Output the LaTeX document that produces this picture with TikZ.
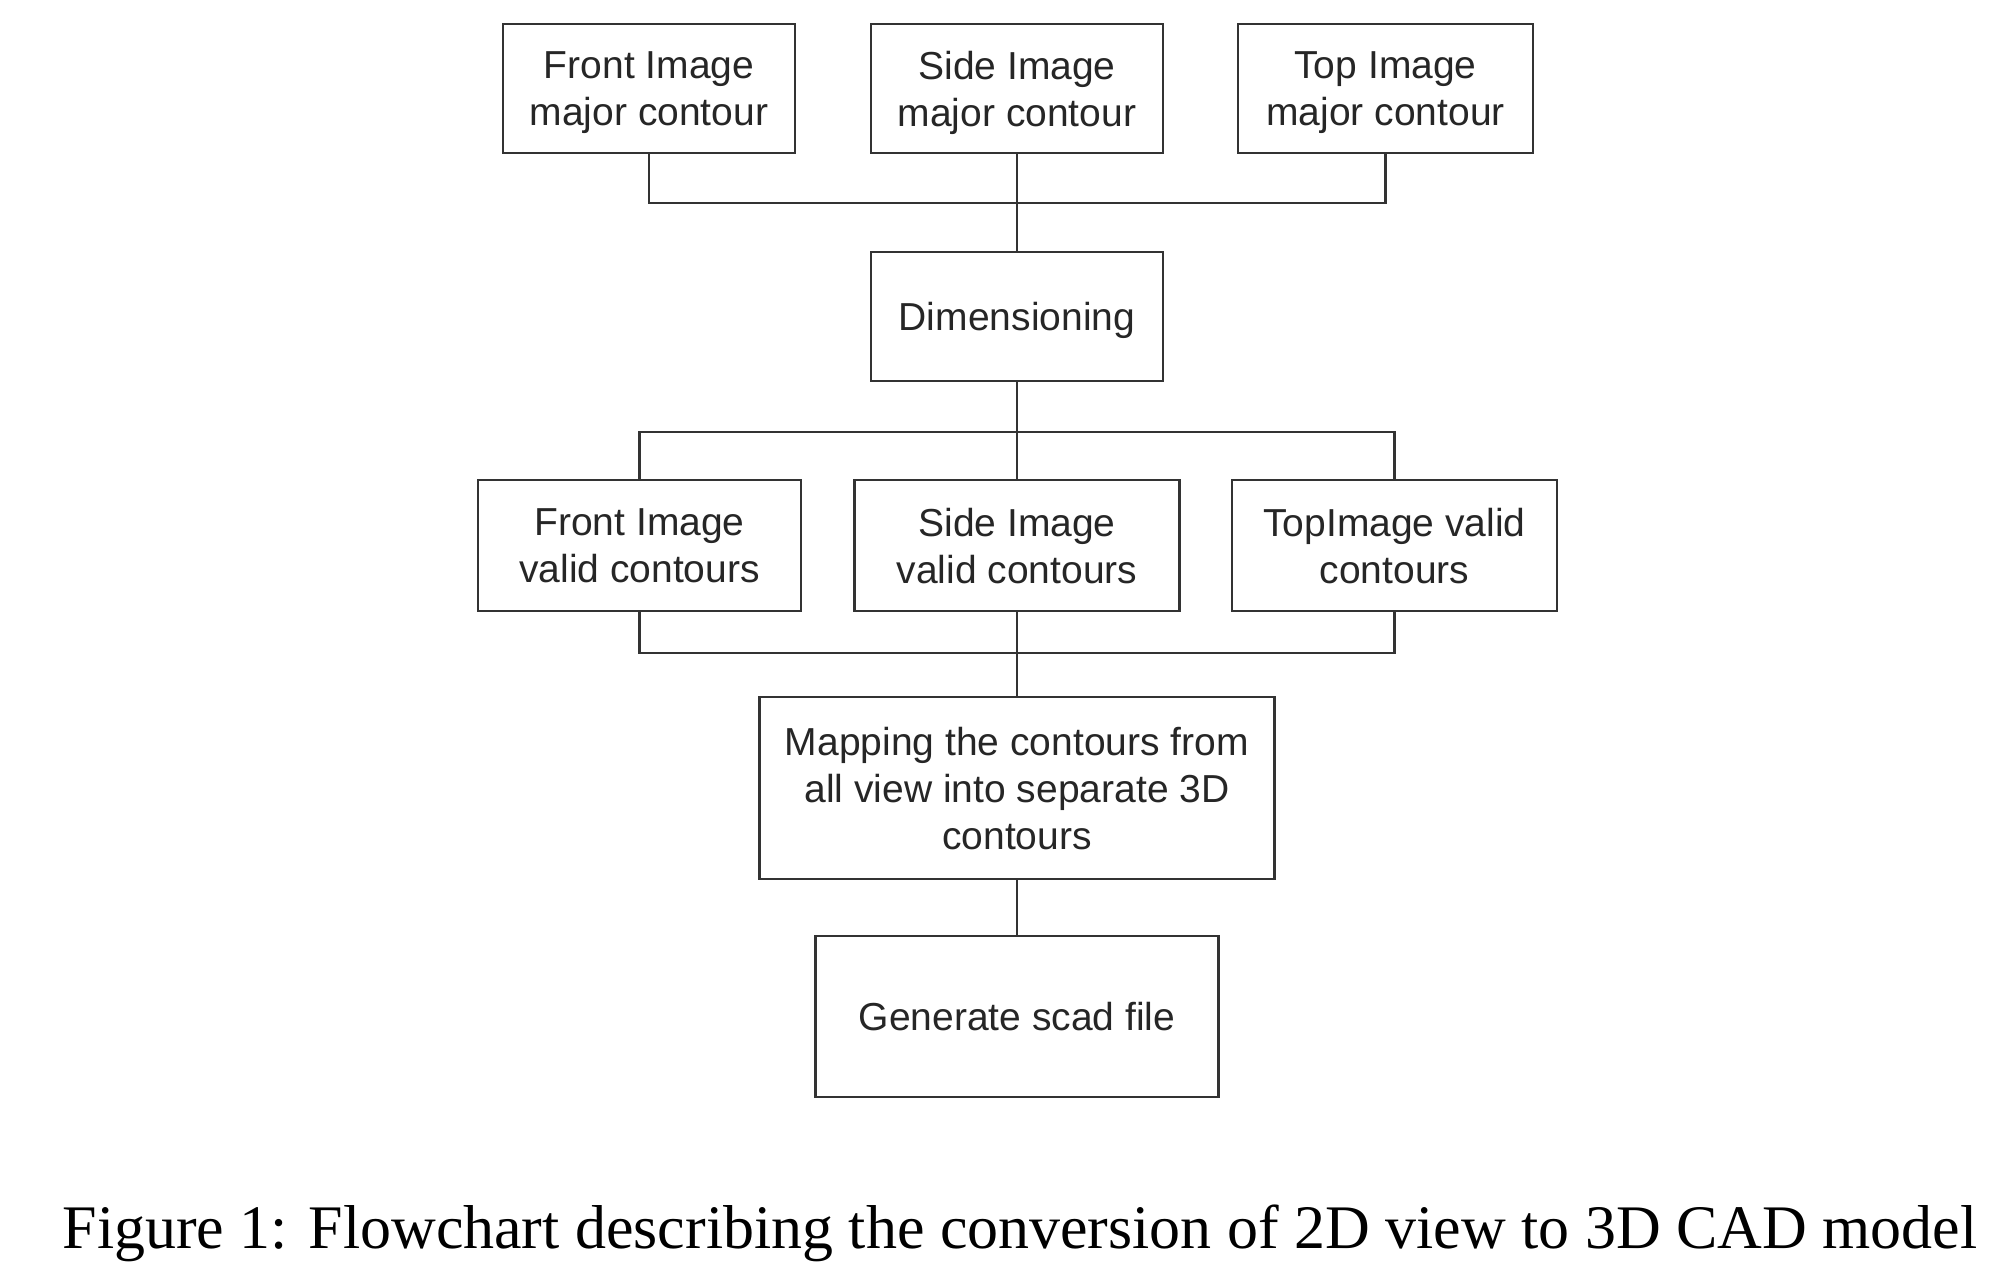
\documentclass[tikz,border=0pt]{standalone}
\usepackage{fontspec}
\setmainfont{Liberation Serif}
\newfontfamily\boxfont{Liberation Sans}
\usetikzlibrary{positioning}

\tikzset{every node/.style={draw=black!80, line width=1.2pt, text=black!85, inner sep=0pt,
    minimum width=5.84cm, minimum height=2.58cm, align=center, text depth=0pt,
    font=\boxfont\fontsize{22.2}{26.7}\selectfont}}

\begin{document}
\begin{tikzpicture}
  \useasboundingbox (0,0) rectangle (40.14,-25.62);
  \node (fmaj) at (12.98,-1.77) {Front Image\\major contour};
  \node (smaj) at (20.34,-1.77) {Side Image\\major contour};
  \node[minimum width=5.9cm] (tmaj) at (27.71,-1.77) {Top Image\\major contour};
  \node (dim) at (20.34,-6.33) {Dimensioning};
  \node[minimum width=6.46cm, minimum height=2.62cm] (fval) at (12.79,-10.91) {Front Image\\valid contours};
  \node[minimum width=6.5cm, minimum height=2.62cm] (sval) at (20.34,-10.91) {Side Image\\valid contours};
  \node[minimum width=6.5cm, minimum height=2.62cm] (tval) at (27.89,-10.91) {TopImage valid\\contours};
  \node[minimum width=10.3cm, minimum height=3.64cm] (map) at (20.34,-15.76) {Mapping the contours from\\all view into separate 3D\\contours};
  \node[minimum width=8.06cm, minimum height=3.22cm] (gen) at (20.34,-20.33) {Generate scad file};
  \node[draw=none, text=black, anchor=base, minimum width=0pt, minimum height=0pt,
    font=\rmfamily\fontsize{35.25}{42}\selectfont] (cap) at (20.4,-24.96)
    {Figure 1: Flowchart describing the conversion of 2D view to 3D CAD model};
  \coordinate (bus1) at (20.34,-4.06);
  \coordinate (bus2) at (20.34,-8.64);
  \coordinate (bus3) at (20.34,-13.06);
  \draw[black!80, line width=1.2pt] (fmaj.south) |- (bus1) -| (tmaj.south);
  \draw[black!80, line width=1.2pt] (smaj.south) -- (dim.north);
  \draw[black!80, line width=1.2pt] (fval.north) |- (bus2) -| (tval.north);
  \draw[black!80, line width=1.2pt] (dim.south) -- (sval.north);
  \draw[black!80, line width=1.2pt] (fval.south) |- (bus3) -| (tval.south);
  \draw[black!80, line width=1.2pt] (sval.south) -- (map.north);
  \draw[black!80, line width=1.2pt] (map.south) -- (gen.north);
\end{tikzpicture}
\end{document}
